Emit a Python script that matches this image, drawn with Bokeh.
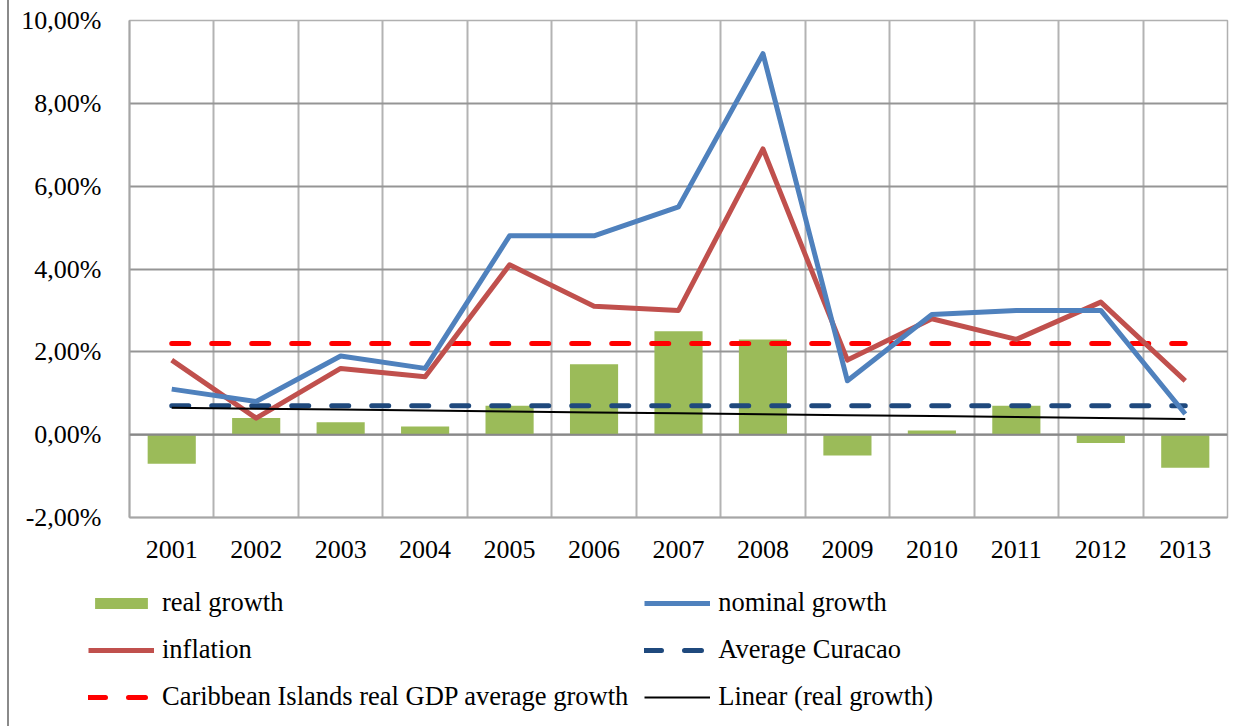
import numpy as np
from bokeh.plotting import figure
from bokeh.models import (ColumnDataSource, Legend, LegendItem, FixedTicker, Range1d, Span)
from bokeh.embed import file_html
from bokeh.resources import INLINE

# ---- data ----
years = [2001, 2002, 2003, 2004, 2005, 2006, 2007, 2008, 2009, 2010, 2011, 2012, 2013]
real_growth = [-0.7, 0.4, 0.3, 0.2, 0.7, 1.7, 2.5, 2.3, -0.5, 0.1, 0.7, -0.2, -0.8]
nominal_growth = [1.1, 0.8, 1.9, 1.6, 4.8, 4.8, 5.5, 9.2, 1.3, 2.9, 3.0, 3.0, 0.5]
inflation = [1.8, 0.4, 1.6, 1.4, 4.1, 3.1, 3.0, 6.9, 1.8, 2.8, 2.3, 3.2, 1.3]
average_curacao = [0.7] * 13
caribbean_avg = [2.2] * 13
y_ticks = [-2, 0, 2, 4, 6, 8, 10]
y_tick_labels = ["-2,00%", "0,00%", "2,00%", "4,00%", "6,00%", "8,00%", "10,00%"]
series_labels = ["real growth", "nominal growth", "inflation", "Average Curacao",
                 "Caribbean Islands real GDP average growth", "Linear (real growth)"]

# linear trendline of real growth (Excel "Linear" trendline)
coef = np.polyfit(years, real_growth, 1)
trend = list(np.polyval(coef, years))

src = ColumnDataSource(dict(x=years, real=real_growth, nom=nominal_growth, inf=inflation,
                            avg=average_curacao, car=caribbean_avg, trend=trend))

FONT = "Liberation Serif"
GREEN, BLUE, RED, NAVY, BRIGHT_RED = "#9BBB59", "#4F81BD", "#C0504D", "#1F497D", "#FF0000"
EDGE = {"margin-left": "7px", "border-left": "2px solid #8a8a8a"}


def add_series(fig):
    rb = fig.vbar(x="x", top="real", bottom=0, width=0.57, source=src,
                  fill_color=GREEN, line_color=None)
    rc = fig.line("x", "car", source=src, line_color=BRIGHT_RED, line_width=5,
                  line_dash="17 23", line_cap="round")
    ra = fig.line("x", "avg", source=src, line_color=NAVY, line_width=5,
                  line_dash="17 23", line_cap="round")
    ri = fig.line("x", "inf", source=src, line_color=RED, line_width=5, line_join="round")
    rn = fig.line("x", "nom", source=src, line_color=BLUE, line_width=5, line_join="round")
    rt = fig.line("x", "trend", source=src, line_color="black", line_width=2)
    return rb, rn, ri, ra, rc, rt


p = figure(width=1246, height=580, output_backend="svg", toolbar_location=None,
           x_range=Range1d(years[0] - 0.5, years[-1] + 0.5),
           y_range=Range1d(y_ticks[0], y_ticks[-1]),
           min_border_left=120, min_border_right=28, min_border_top=20, min_border_bottom=63)
p.styles = EDGE
p.outline_line_color = "#b0b0b0"
p.outline_line_width = 1.5

# grids
p.xgrid.ticker = FixedTicker(ticks=[y - 0.5 for y in years] + [years[-1] + 0.5])
p.xgrid.grid_line_color = "#b3b3b3"
p.xgrid.grid_line_width = 2
p.ygrid.ticker = FixedTicker(ticks=y_ticks)
p.ygrid.grid_line_color = "#959595"
p.ygrid.grid_line_width = 2

# axes
p.xaxis.ticker = FixedTicker(ticks=years)
p.yaxis.ticker = FixedTicker(ticks=y_ticks)
p.yaxis.major_label_overrides = {t: l for t, l in zip(y_ticks, y_tick_labels)}
for ax in (p.xaxis[0], p.yaxis[0]):
    ax.major_label_text_font = FONT
    ax.major_label_text_font_size = "26px"
    ax.major_label_text_color = "black"
    ax.major_tick_line_color = None
    ax.minor_tick_line_color = None
    ax.axis_line_color = "#a6a6a6"
    ax.axis_line_width = 2
p.yaxis.major_label_standoff = 22
p.xaxis.major_label_standoff = 17

p.add_layout(Span(location=0, dimension="width", line_color="#888888", line_width=2))

add_series(p)

# legend panel: a second root figure (no axes) whose frame only shows the legend
lf = figure(width=1246, height=146, output_backend="svg", toolbar_location=None,
            x_range=Range1d(0, 1), y_range=Range1d(100, 101),
            x_axis_location=None, y_axis_location=None,
            min_border_left=0, min_border_right=0, min_border_top=0, min_border_bottom=0)
lf.styles = EDGE
lf.grid.visible = False
lf.outline_line_color = None
leg_renderers = add_series(lf)

legend = Legend(items=[LegendItem(label=lab, renderers=[r])
                       for lab, r in zip(series_labels, leg_renderers)],
                orientation="horizontal", ncols=2, location=(79, 14))
legend.label_text_font = FONT
legend.label_text_font_size = "26.5px"
legend.label_text_color = "black"
legend.glyph_width = 66
legend.glyph_height = 14
legend.label_height = 26
legend.label_standoff = 8
legend.spacing = 16
legend.padding = 0
legend.margin = 0
legend.border_line_color = None
legend.background_fill_alpha = 0
lf.add_layout(legend, "center")

open("out.html", "w").write(file_html([p, lf], INLINE))
